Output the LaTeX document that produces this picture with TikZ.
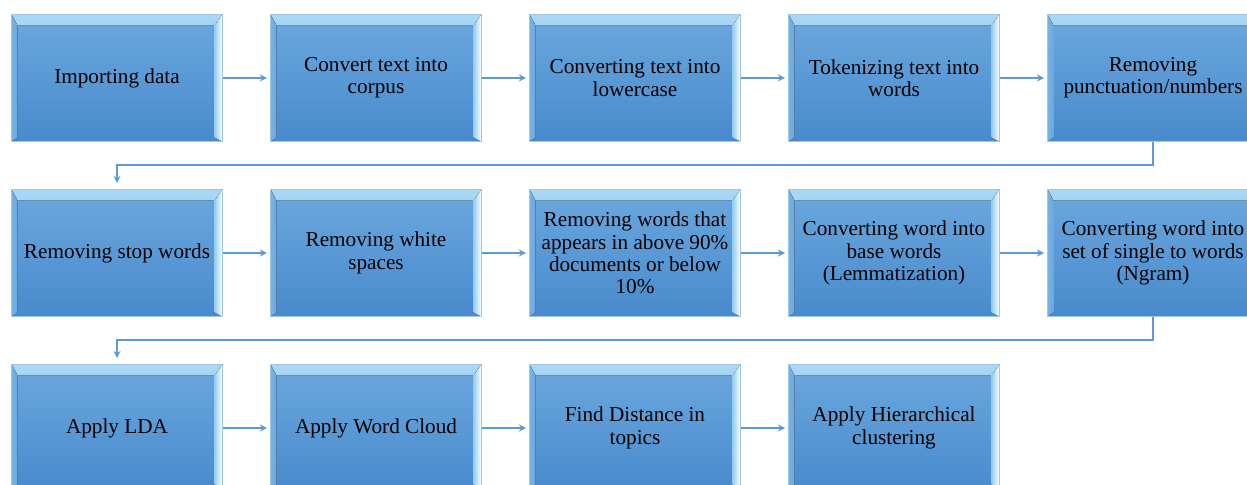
\documentclass[tikz,border=0pt]{standalone}
\usepackage{fontspec}
\setmainfont{Liberation Serif}
\usetikzlibrary{positioning}

\definecolor{facetop}{RGB}{108,168,222}
\definecolor{facebot}{RGB}{72,138,204}
\definecolor{boxedge}{RGB}{160,198,232}
\definecolor{bevtop}{RGB}{170,216,245}
\definecolor{bevright}{RGB}{150,205,240}
\definecolor{bevleft}{RGB}{120,178,228}
\definecolor{flowline}{RGB}{91,155,213}

\tikzset{
  stepbox/.style={rectangle, draw=boxedge, line width=0.5pt,
    top color=facetop, bottom color=facebot,
    minimum width=105.5pt, minimum height=63.5pt, inner sep=0pt,
    align=center, font=\fontsize{10.6pt}{11.2pt}\selectfont,
    path picture={
      % top bevel
      \fill[top color=bevtop, bottom color=facetop!90!bevtop]
        (path picture bounding box.north west) -- (path picture bounding box.north east)
        -- ([shift={(-4pt,-5.5pt)}]path picture bounding box.north east)
        -- ([shift={(3pt,-5.5pt)}]path picture bounding box.north west) -- cycle;
      % right bevel
      \fill[left color=bevright, right color=white]
        (path picture bounding box.north east) -- (path picture bounding box.south east)
        -- ([shift={(-4pt,2pt)}]path picture bounding box.south east)
        -- ([shift={(-4pt,-5.5pt)}]path picture bounding box.north east) -- cycle;
      % left bevel
      \fill[left color=bevleft, right color=facetop]
        (path picture bounding box.north west) -- (path picture bounding box.south west)
        -- ([shift={(3pt,2pt)}]path picture bounding box.south west)
        -- ([shift={(3pt,-5.5pt)}]path picture bounding box.north west) -- cycle;
    }},
  flow/.style={draw=flowline, line width=0.6pt, ->, >=stealth, shorten >=1.5pt},
  node distance=23.5pt and 23.5pt
}

\begin{document}
\begin{tikzpicture}

\clip (0,0) rectangle (623.5pt,-242.5pt); % page frame

% first row
\node[stepbox, anchor=north west] (import) at (5.5pt,-7pt) {Importing data};
\node[stepbox, right=of import] (corpus) {Convert text into\\corpus};
\node[stepbox, right=of corpus] (lower) {Converting text into\\lowercase};
\node[stepbox, right=of lower] (token) {Tokenizing text into\\words};
\node[stepbox, right=of token] (punct) {Removing\\punctuation/numbers};

% second row
\node[stepbox, below=of import] (stopw) {Removing stop words};
\node[stepbox, right=of stopw] (white) {Removing white\\spaces};
\node[stepbox, right=of white] (freq) {Removing words that\\appears in above 90\%\\documents or below\\10\%};
\node[stepbox, right=of freq] (lemma) {Converting word into\\base words\\(Lemmatization)};
\node[stepbox, right=of lemma] (ngram) {Converting word into\\set of single to words\\(Ngram)};

% third row
\node[stepbox, below=of stopw] (lda) {Apply LDA};
\node[stepbox, right=of lda] (cloud) {Apply Word Cloud};
\node[stepbox, right=of cloud] (dist) {Find Distance in\\topics};
\node[stepbox, right=of dist] (hclust) {Apply Hierarchical\\clustering};

% arrows along the rows
\draw[flow] (import) -- (corpus);
\draw[flow] (corpus) -- (lower);
\draw[flow] (lower) -- (token);
\draw[flow] (token) -- (punct);
\draw[flow] (stopw) -- (white);
\draw[flow] (white) -- (freq);
\draw[flow] (freq) -- (lemma);
\draw[flow] (lemma) -- (ngram);
\draw[flow] (lda) -- (cloud);
\draw[flow] (cloud) -- (dist);
\draw[flow] (dist) -- (hclust);

% wrap to the next row
\draw[flow, shorten >=3pt] (punct.south) -- ++(0,-11.5pt) -| (stopw.north);
\draw[flow, shorten >=3pt] (ngram.south) -- ++(0,-11.5pt) -| (lda.north);

\end{tikzpicture}
\end{document}
